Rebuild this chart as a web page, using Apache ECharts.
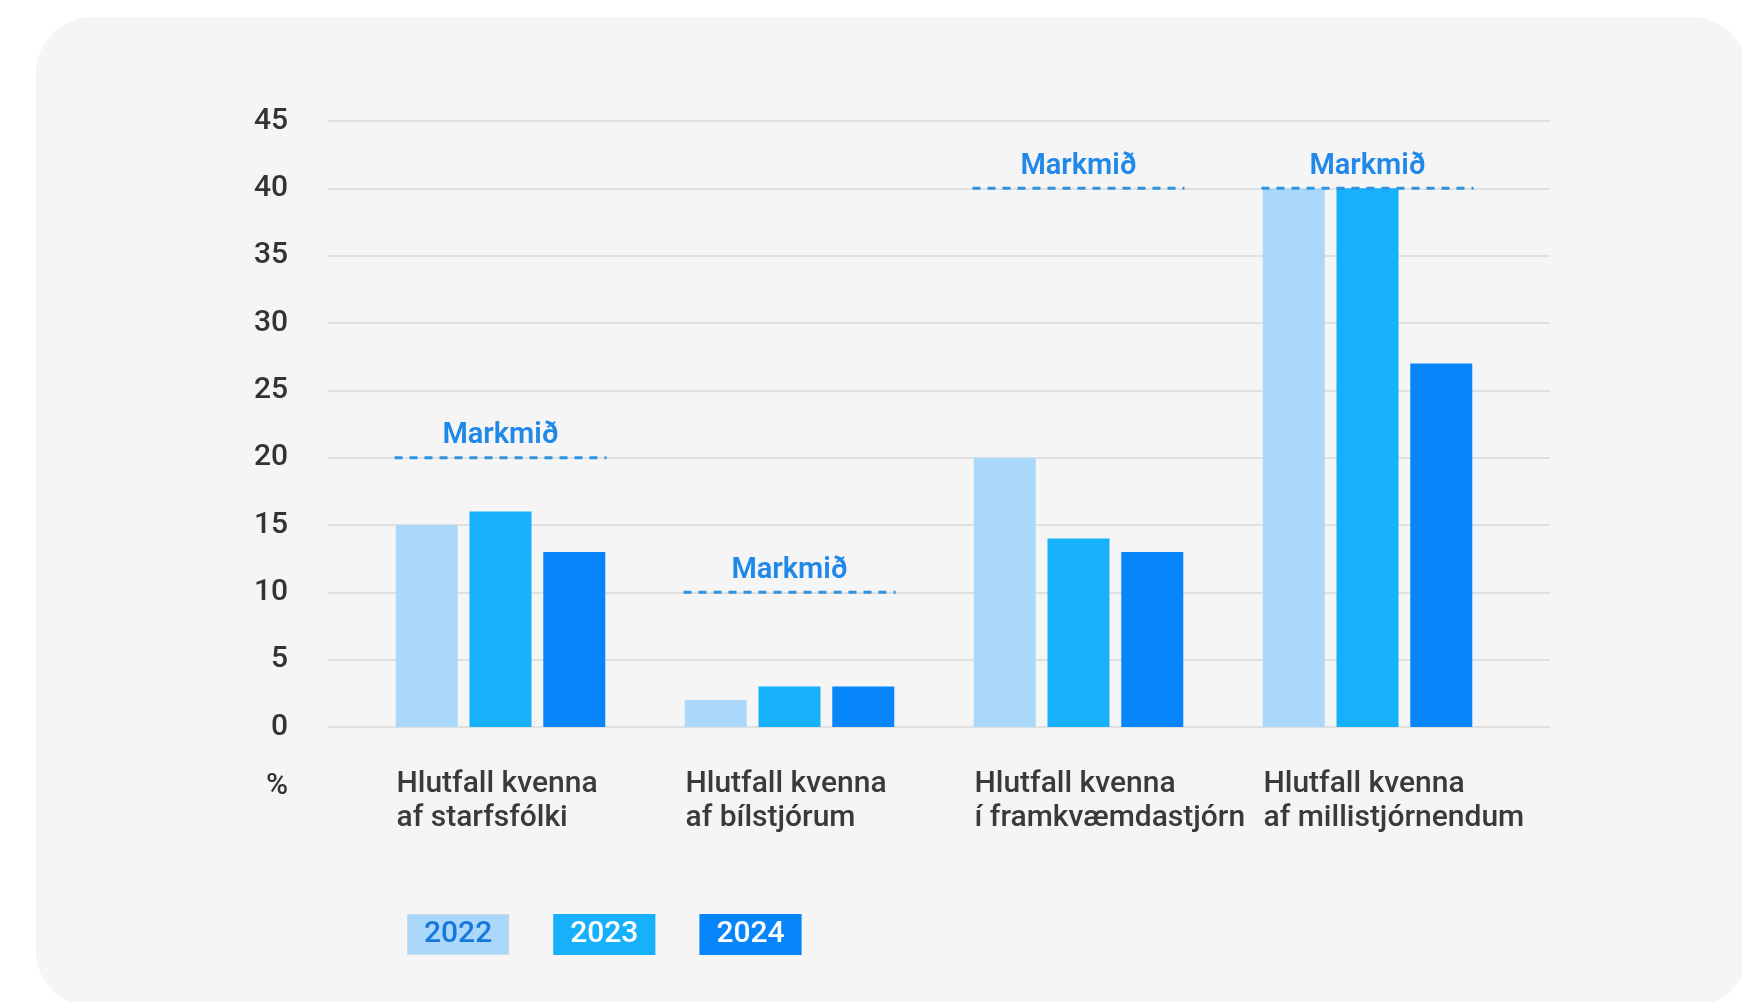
<!DOCTYPE html>
<html>
<head>
<meta charset="utf-8">
<script src="https://cdn.jsdelivr.net/npm/echarts@6/dist/echarts.min.js"></script>
<style>
  html, body { margin: 0; padding: 0; background: #ffffff; }
  #card {
    position: absolute; left: 36px; top: 17px; width: 1712px; height: 990px;
    background: #f5f5f5; border-radius: 56px;
  }
  #main { position: absolute; left: 0; top: 0; width: 1742px; height: 1002px; }
</style>
</head>
<body>
<div id="card"></div>
<div id="main"></div>
<script>
const categories = [
  'Hlutfall kvenna\naf starfsfólki',
  'Hlutfall kvenna\naf bílstjórum',
  'Hlutfall kvenna\ní framkvæmdastjórn',
  'Hlutfall kvenna\naf millistjórnendum'
];
const years = ['2022', '2023', '2024'];
const values2022 = [15, 2, 20, 40];
const values2023 = [16, 3, 14, 40];
const values2024 = [13, 3, 13, 27];
const targets = [20, 10, 40, 40];
const targetLabel = 'Markmið';
const yMin = 0, yMax = 45, yStep = 5;

const colors = ['#a9d8fb', '#16b0fb', '#0785fb'];
const font = 'Roboto';

const chart = echarts.init(document.getElementById('main'));

const barSeries = [values2022, values2023, values2024].map((vals, i) => ({
  name: years[i],
  type: 'bar',
  xAxisIndex: 1,
  yAxisIndex: 1,
  data: vals,
  barWidth: 62,
  barGap: '19%',
  itemStyle: { color: colors[i] },
  silent: true,
}));

chart.setOption({
  animation: false,
  textStyle: { fontFamily: font },
  grid: [
    { left: 328, right: 192, top: 121, bottom: 275 },
    { left: 356, right: 230, top: 121, bottom: 275 },
  ],
  legend: {
    left: 398,
    top: 909,
    icon: 'none',
    itemWidth: 0,
    itemHeight: 0,
    itemGap: 40,
    selectedMode: false,
    data: years.map((y, i) => ({
      name: y,
      textStyle: {
        fontFamily: font,
        fontSize: 30,
        fontWeight: 500,
        lineHeight: 30,
        color: i === 0 ? '#1677dc' : '#ffffff',
        backgroundColor: colors[i],
        borderColor: i === 0 ? '#c9d9e6' : colors[i],
        borderWidth: 1,
        padding: [5, 16, 4, 16],
      },
    })),
  },
  xAxis: [
    { type: 'value', gridIndex: 0, show: false, min: 0, max: 1 },
    {
      type: 'category',
      gridIndex: 1,
      data: categories,
      axisLine: { show: false },
      axisTick: { show: false },
      axisLabel: {
        interval: 0,
        margin: 40,
        formatter: (v) => v.split('\n').map((s) => '{a|' + s + '}').join('\n'),
        rich: {
          a: {
            width: 208,
            align: 'left',
            fontFamily: font,
            fontSize: 30,
            fontWeight: 500,
            lineHeight: 34,
            color: '#3a3a3a',
          },
        },
      },
    },
  ],
  yAxis: [
    {
      type: 'value',
      gridIndex: 0,
      min: yMin,
      max: yMax,
      interval: yStep,
      axisLine: { show: false },
      axisTick: { show: false },
      axisLabel: {
        margin: 40,
        fontSize: 30,
        fontWeight: 500,
        color: '#333333',
      },
      splitLine: { lineStyle: { color: '#e0e0e0', width: 2 } },
    },
    { type: 'value', gridIndex: 1, min: yMin, max: yMax, show: false, splitLine: { show: false } },
  ],
  graphic: [
    {
      type: 'text',
      right: 1742 - 288,
      top: 771,
      style: { text: '%', font: '500 30px ' + font, fill: '#333333' },
    },
  ],
  series: [
    ...barSeries,
    {
      type: 'custom',
      xAxisIndex: 1,
      yAxisIndex: 1,
      silent: true,
      z: 5,
      data: targets.map((t, i) => [i, t]),
      renderItem: (params, api) => {
        const p = api.coord([api.value(0), api.value(1)]);
        const half = 106;
        return {
          type: 'group',
          children: [
            {
              type: 'line',
              shape: { x1: p[0] - half, y1: p[1], x2: p[0] + half, y2: p[1] },
              style: { stroke: '#2f93e0', lineWidth: 3, lineDash: [8, 7] },
            },
            {
              type: 'text',
              x: p[0],
              y: p[1] - 22,
              style: {
                text: targetLabel,
                textAlign: 'center',
                textVerticalAlign: 'middle',
                font: '600 29px ' + font,
                fill: '#1f88e8',
              },
            },
          ],
        };
      },
    },
  ],
});
</script>
</body>
</html>
